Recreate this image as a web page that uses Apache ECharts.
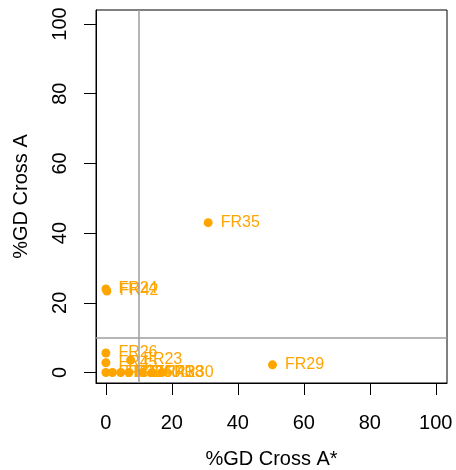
<!DOCTYPE html>
<html>
<head>
<meta charset="utf-8">
<script src="https://cdn.jsdelivr.net/npm/echarts@6/dist/echarts.min.js"></script>
<style>
  html, body { margin: 0; padding: 0; background: #fff; }
  #main { width: 456px; height: 470px; }
</style>
</head>
<body>
<div id="main"></div>
<script>
// labelled strains, %GD in cross A* (x) and cross A (y)
var names = ['FR35', 'FR29', 'FR24', 'FR42', 'FR26', 'FR45', 'FR23', 'FR31', 'FR33', 'FR36', 'FR40', 'FR41', 'FR38', 'FR30'];
var gdCrossAStar = [31, 50.5, 0, 0.3, 0, 0, 7.5, 0, 2, 4.5, 7, 11, 14, 17];
var gdCrossA = [43, 2.2, 24, 23.4, 5.6, 2.8, 3.6, 0, 0, 0, 0, 0, 0, 0];
var tickValues = [0, 20, 40, 60, 80, 100];
var cutoff = 10;

var pts = [];
for (var i = 0; i < names.length; i++) {
  pts.push({ value: [gdCrossAStar[i], gdCrossA[i]], name: names[i] });
}

var font = 'Liberation Sans, Arial, Helvetica, sans-serif';
var myChart = echarts.init(document.getElementById('main'));

var option = {
  animation: false,
  backgroundColor: '#fff',
  grid: {
    left: 96, right: 9, top: 10, bottom: 87,
    outerBoundsMode: 'none', containLabel: false,
    show: true, borderColor: '#000', borderWidth: 1
  },
  xAxis: {
    type: 'value', min: -3, max: 103.4,
    name: '%GD Cross A*', nameLocation: 'middle', nameGap: 66,
    nameTextStyle: { fontFamily: font, fontSize: 20, color: '#000' },
    axisLine: { show: true, onZero: false, lineStyle: { color: '#000' } },
    axisTick: { show: true, length: 12, customValues: tickValues, lineStyle: { color: '#000', width: 1 } },
    axisLabel: { customValues: tickValues, margin: 30, fontFamily: font, fontSize: 20, color: '#000' },
    splitLine: { show: false }
  },
  yAxis: {
    type: 'value', min: -3, max: 104,
    name: '%GD Cross A', nameLocation: 'middle', nameGap: 65,
    nameTextStyle: { fontFamily: font, fontSize: 20, color: '#000' },
    axisLine: { show: true, onZero: false, lineStyle: { color: '#000' } },
    axisTick: { show: true, length: 12, customValues: tickValues, lineStyle: { color: '#000', width: 1 } },
    axisLabel: { customValues: tickValues, rotate: 90, margin: 26, fontFamily: font, fontSize: 20, color: '#000' },
    splitLine: { show: false }
  },
  series: [
    {
      type: 'scatter',
      data: pts,
      symbolSize: 9,
      itemStyle: { color: '#FFA500', opacity: 1 },
      label: {
        show: true, position: 'right', distance: 8,
        formatter: '{b}', color: '#FFA500',
        fontFamily: font, fontSize: 16
      },
      labelLayout: { hideOverlap: false }
    },
    {
      type: 'scatter',
      data: [],
      z: 5,
      markLine: {
        silent: true, symbol: 'none',
        label: { show: false },
        lineStyle: { color: '#9E9E9E', width: 1.5, type: 'solid' },
        data: [{ xAxis: cutoff }, { yAxis: cutoff }]
      }
    }
  ]
};
myChart.setOption(option);
</script>
</body>
</html>
